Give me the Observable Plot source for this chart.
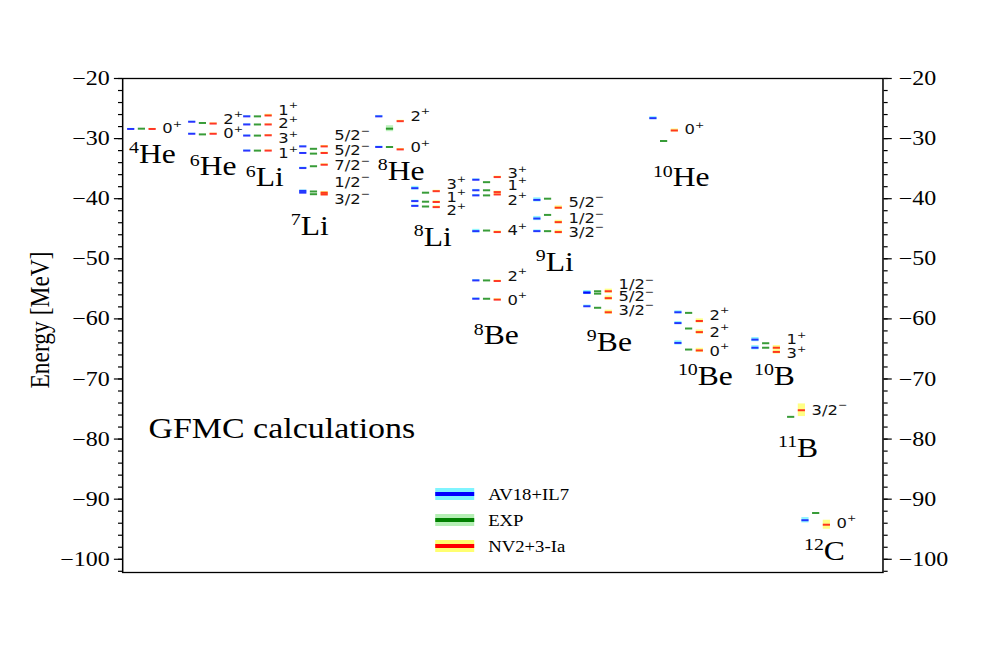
<!DOCTYPE html>
<html><head><meta charset="utf-8">
<script src="https://cdn.jsdelivr.net/npm/d3@7"></script>
<script src="https://cdn.jsdelivr.net/npm/@observablehq/plot@0.6"></script>
<style>
html,body{margin:0;padding:0;background:#fff;overflow:hidden;}
#wrap{width:838px;transform:scaleX(1.1706);transform-origin:0 0;}
</style></head><body><div id="wrap"></div>
<script>
// ---- data ----
const nuclei = ["4He","6He","6Li","7Li","8He","8Li","8Be","9Li","9Be","10He","10Be","10B","11B","12C"];
const nucleusX = [0.5, 6.6, 12.1, 17.7, 25.3, 28.9, 35.0, 41.1, 46.1, 52.7, 55.2, 62.9, 65.4, 67.9];
const nucleusLabelX = [0.63, 6.7, 12.3, 16.8, 25.5, 29.1, 35.1, 41.3, 46.4, 53.0, 55.5, 63.1, 65.5, 68.1];
const nucleusLabelE = [-33.98, -36.14, -37.97, -46.12, -36.97, -47.95, -64.26, -51.95, -65.26, -37.97, -71.08, -71.08, -83.06, -100.2];

const levelNucleus = ["4He","6He","6He","6Li","6Li","6Li","6Li","7Li","7Li","7Li","7Li","7Li","8He","8He","8Li","8Li","8Li","8Be","8Be","8Be","8Be","8Be","8Be","9Li","9Li","9Li","9Be","9Be","9Be","10He","10Be","10Be","10Be","10B","10B","11B","12C"];
const levelSpin = ["0+","2+","0+","1+","2+","3+","1+","5/2−","5/2−","7/2−","1/2−","3/2−","2+","0+","3+","1+","2+","3+","1+","2+","4+","2+","0+","5/2−","1/2−","3/2−","1/2−","5/2−","3/2−","0+","2+","2+","0+","1+","3+","3/2−","0+"];
const energyAV18IL7 = [-28.4, -27.2,-29.2, -26.3,-27.65,-29.5,-32.0, -31.3,-32.4,-34.9,-38.7,-39.0, -26.3,-31.4, -38.25,-40.4,-41.2, -36.85,-38.6,-39.45,-45.4,-53.6,-56.65, -40.2,-43.3,-45.4, -55.6,-55.65,-57.9, -26.6, -58.9,-60.7,-64.0, -63.45,-64.8, null, -93.5];
const energyEXP = [-28.35, -27.4,-29.3, -26.3,-27.65,-29.5,-32.0, -31.7,-32.5,-34.6,-38.8,-39.25, -28.35,-31.4, -39.0,-40.5,-41.3, -37.25,-38.6,-39.45,-45.3,-53.6,-56.65, -40.0,-42.7,-45.4, -55.4,-55.8,-58.15, -30.4, -59.0,-61.6,-65.1, -64.05,-64.8, -76.3, -92.3];
const energyNV2 = [-28.4, -27.5,-29.2, -26.15,-27.65,-29.45,-32.0, -31.3,-32.4,-34.35,-39.0,-39.3, -27.1,-31.8, -38.75,-40.55,-41.4, -36.4,-38.9,-39.3,-45.55,-53.7,-56.8, -41.5,-43.9,-45.55, -55.4,-56.55,-58.9, -28.65, -60.35,-62.2,-65.25, -64.8,-65.5, -75.2, -94.25];
const errAV18IL7 = [0.1, 0.1,0.1, 0.1,0.1,0.1,0.1, 0.1,0.1,0.15,0.15,0.15, 0.15,0.15, 0.3,0.15,0.15, 0.15,0.15,0.15,0.3,0.15,0.15, 0.35,0.35,0.2, 0.3,0.3,0.2, 0.25, 0.25,0.25,0.35, 0.35,0.35, null, 0.45];
const errEXP = [0, 0,0, 0,0,0,0, 0,0,0,0,0, 0.5,0, 0,0,0, 0,0,0,0,0,0, 0,0,0, 0,0,0, 0, 0,0,0, 0,0, 0, 0];
const errNV2 = [0.1, 0.1,0.1, 0.2,0.1,0.1,0.1, 0.15,0.15,0.15,0.2,0.2, 0.15,0.15, 0.15,0.2,0.2, 0.15,0.15,0.15,0.2,0.15,0.15, 0.3,0.3,0.3, 0.35,0.35,0.35, 0.25, 0.35,0.35,0.35, 0.35,0.35, 1.05, 0.75];
const levelLabelE = [-28.4, -26.8,-29.2, -25.3,-27.55,-30.0,-32.5, -29.5,-32.0,-34.5,-37.25,-40.1, -26.3,-31.5, -37.6,-39.75,-42.0, -35.85,-37.8,-40.3,-45.3,-52.9,-56.9, -40.6,-43.3,-45.55, -54.3,-56.35,-58.6, -28.5, -59.4,-62.2,-65.35, -63.45,-65.8, -75.2, -94.0];
const methodNames = ["AV18+IL7", "EXP", "NV2+3-Ia"];
const majorTicks = d3.range(-100, -19, 10);
const minorTicks = d3.range(-102, -19, 2);

// ---- styling / layout ----
const methodStyle = {
  "AV18+IL7": {offset: 0,    line: "#0000ff", band: "#7ff4ff", values: energyAV18IL7, err: errAV18IL7},
  "EXP":      {offset: 1.07, line: "#008000", band: "#b4efb4", values: energyEXP, err: errEXP},
  "NV2+3-Ia": {offset: 2.14, line: "#ff0000", band: "#ffff70", values: energyNV2, err: errNV2}
};
const dashLen = 0.72;
const posOf = Object.fromEntries(nuclei.map((n, i) => [n, nucleusX[i]]));

const rows = [];
methodNames.forEach(m => {
  const st = methodStyle[m];
  levelNucleus.forEach((n, i) => {
    const v = st.values[i];
    if (v == null) return;
    rows.push({method: m, nucleus: n, E: v, err: st.err[i] || 0, x0: posOf[n] + st.offset});
  });
});
const levels = levelNucleus.map((n, i) => ({nucleus: n, spin: levelSpin[i], labelE: levelLabelE[i], x: posOf[n]}));
const nucLabels = nuclei.map((n, i) => ({name: n, x: nucleusLabelX[i], y: nucleusLabelE[i]}));

const marks = [];
methodNames.forEach(m => {
  const st = methodStyle[m];
  const data = rows.filter(r => r.method === m && r.err > 0);
  marks.push(Plot.rect(data, {x1: "x0", x2: d => d.x0 + dashLen, y1: d => d.E - d.err, y2: d => d.E + d.err, fill: st.band, fillOpacity: 0.85}));
});
methodNames.forEach(m => {
  const st = methodStyle[m];
  const data = rows.filter(r => r.method === m);
  marks.push(Plot.ruleY(data, {y: "E", x1: "x0", x2: d => d.x0 + dashLen, stroke: st.line, strokeWidth: 2, strokeOpacity: 0.78}));
});

const svg = Plot.plot({
  width: 838, height: 654,
  marginLeft: 104.3, marginRight: 84.2, marginTop: 78, marginBottom: 82,
  x: {domain: [0, 76], axis: null},
  y: {domain: [-102.2, -20], axis: null},
  style: {fontFamily: "'Liberation Serif', 'Times New Roman', serif", background: "#fff"},
  marks: [
    ...marks,
    Plot.text(levels, {x: d => d.x + 3.46, y: "labelE", text: "spin", textAnchor: "start", lineAnchor: "middle", fontSize: 14, fontFamily: "'DejaVu Sans', sans-serif", fill: "#111"}),
    Plot.text(nucLabels, {x: "x", y: "y", text: "name", textAnchor: "start", lineAnchor: "bottom", fontSize: 27, fill: "#000"}),
    Plot.text(["GFMC calculations"], {frameAnchor: "top-left", text: d => d, dx: 22, dy: 359, textAnchor: "start", lineAnchor: "bottom", fontSize: 29}),
    Plot.axisY({anchor: "left", ticks: minorTicks, tickSize: 3.5, tickFormat: () => "", strokeWidth: 1.2, label: null}),
    Plot.axisY({anchor: "right", ticks: minorTicks, tickSize: 3.5, tickFormat: () => "", strokeWidth: 1.2, label: null}),
    Plot.axisY({anchor: "left", ticks: majorTicks, tickSize: 7, tickPadding: 4, fontSize: 20.5, strokeWidth: 1.2, label: null}),
    Plot.axisY({anchor: "right", ticks: majorTicks, tickSize: 7, tickPadding: 6.5, fontSize: 20.5, strokeWidth: 1.2, label: null}),
    Plot.frame({stroke: "#000", strokeWidth: 1.3})
  ]
});

// superscripts for nucleus mass numbers and parities
d3.select(svg).selectAll("text").each(function() {
  const t = this.textContent;
  let m;
  if ((m = /^(\d+)([A-Z][a-z]?)$/.exec(t))) {
    const s = d3.select(this); s.text(null);
    s.append("tspan").attr("font-size", 17).attr("dy", -10).text(m[1]);
    s.append("tspan").attr("dy", 10).text(m[2]);
  } else if ((m = /^([\d\/]+)([+\u2212])$/.exec(t))) {
    const s = d3.select(this); s.text(null);
    s.append("tspan").text(m[1]);
    s.append("tspan").attr("font-size", 9.5).attr("dy", -6.5).text(m[2]);
  }
});

// y-axis title
d3.select(svg).append("text")
  .attr("transform", "translate(34,320) rotate(-90)")
  .attr("text-anchor", "middle").attr("dy", "0.35em")
  .attr("font-size", 23.5).attr("fill", "#000")
  .text("Energy [MeV]");

// legend
const legendRows = [494, 520, 546];
const lg = d3.select(svg).append("g").attr("text-anchor", "start");
methodNames.forEach((m, i) => {
  const st = methodStyle[m], cy = legendRows[i];
  lg.append("rect").attr("x", 371.8).attr("width", 33.3).attr("y", cy - 6).attr("height", 12).attr("fill", st.band);
  lg.append("line").attr("x1", 371.8).attr("x2", 405.1).attr("y1", cy).attr("y2", cy).attr("stroke", st.line).attr("stroke-width", 4);
  lg.append("text").attr("x", 417).attr("y", cy).attr("dy", "0.35em").attr("text-anchor", "start").attr("font-size", 16).attr("fill", "#000").text(m);
});

document.getElementById("wrap").appendChild(svg);
</script></body></html>
